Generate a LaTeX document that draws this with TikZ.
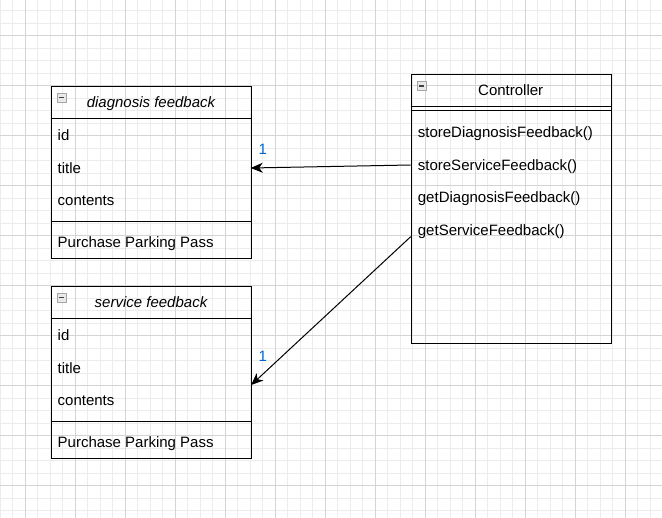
\documentclass[tikz,border=0pt]{standalone}
\usepackage{fontspec}
\setmainfont{Liberation Sans}
\usetikzlibrary{arrows.meta}
\definecolor{gminor}{RGB}{236,236,236}
\definecolor{gmajor}{RGB}{212,212,212}
\definecolor{lblblue}{RGB}{0,102,204}
\tikzset{
  umlbox/.style={draw=black, line width=1pt, minimum width=200pt, anchor=north west, inner sep=0pt},
  sepline/.style={draw=black, line width=1pt},
  attr/.style={anchor=base west, inner sep=0pt, font=\fontsize{15}{18}\selectfont},
  ttl/.style={anchor=base, inner sep=0pt, font=\fontsize{15}{18}\selectfont},
  mult/.style={inner sep=0pt, text=lblblue, font=\fontsize{15}{18}\selectfont},
  conn/.style={draw=black, line width=1pt, -{Stealth[length=12pt,width=10pt,inset=3.5pt]}},
  minusbox/.pic={
    \draw[draw=gray!70, fill=gray!18, line width=0.8pt] (0,0) rectangle (9,9);
    \draw[draw=black!75, line width=1.4pt] (1.8,4.5) -- (7.2,4.5);
  }
}
\begin{document}
\begin{tikzpicture}[x=1pt,y=-1pt]
\useasboundingbox (0,0) rectangle (662,518);
\fill[white] (0,0) rectangle (662,518);
% grid
\foreach \x in {0,12.5,...,662} \draw[gminor, line width=1pt] (\x,0) -- (\x,518);
\foreach \y in {11,23.5,...,518} \draw[gminor, line width=1pt] (0,\y) -- (662,\y);
\foreach \x in {25,75,...,662} \draw[gmajor, line width=1pt] (\x,0) -- (\x,518);
\foreach \y in {36,86,...,518} \draw[gmajor, line width=1pt] (0,\y) -- (662,\y);

% diagnosis feedback
\node[umlbox, minimum height=172.5pt] (diag) at (50.7,86) {};
\draw[sepline] (diag.west |- 0,118.7) -- (diag.east |- 0,118.7);
\draw[sepline] (diag.west |- 0,221.3) -- (diag.east |- 0,221.3);
\pic at (57,93) {minusbox};
\node[ttl, font=\fontsize{15}{18}\selectfont\itshape] (dt) at (151,107.3) {diagnosis feedback};
\node[attr] (d1) at (57.5,141) {id};
\node[attr] (d2) at (57.5,173.5) {title};
\node[attr] (d3) at (57.5,206) {contents};
\node[attr] (d4) at (57.5,247.7) {Purchase Parking Pass};

% service feedback
\node[umlbox, minimum height=172.5pt] (serv) at (50.7,286) {};
\draw[sepline] (serv.west |- 0,318.7) -- (serv.east |- 0,318.7);
\draw[sepline] (serv.west |- 0,421.3) -- (serv.east |- 0,421.3);
\pic at (57,293) {minusbox};
\node[ttl, font=\fontsize{15}{18}\selectfont\itshape] (st) at (151,307.3) {service feedback};
\node[attr] (s1) at (57.5,341) {id};
\node[attr] (s2) at (57.5,373.5) {title};
\node[attr] (s3) at (57.5,406) {contents};
\node[attr] (s4) at (57.5,447.7) {Purchase Parking Pass};

% controller
\node[umlbox, minimum height=269.6pt] (ctrl) at (410.7,73.7) {};
\draw[sepline] (ctrl.west |- 0,106.3) -- (ctrl.east |- 0,106.3);
\draw[sepline] (ctrl.west |- 0,111) -- (ctrl.east |- 0,111);
\pic at (417,81.5) {minusbox};
\node[ttl] (ct) at (510.7,95.7) {Controller};
\node[attr] (c1) at (417.7,138) {storeDiagnosisFeedback()};
\node[attr] (c2) at (417.7,170.5) {storeServiceFeedback()};
\node[attr] (c3) at (417.7,203) {getDiagnosisFeedback()};
\node[attr] (c4) at (417.7,235.5) {getServiceFeedback()};

% connectors
\coordinate (a1s) at (410.7,165);
\coordinate (a1e) at (250.7,168);
\coordinate (a2s) at (410.7,236.7);
\coordinate (a2e) at (251.2,385);
\draw[conn] (a1s) -- (a1e);
\draw[conn] (a2s) -- (a2e);
\node[mult] (m1) at (262.7,149.3) {1};
\node[mult] (m2) at (262.7,356.7) {1};
\end{tikzpicture}
\end{document}
